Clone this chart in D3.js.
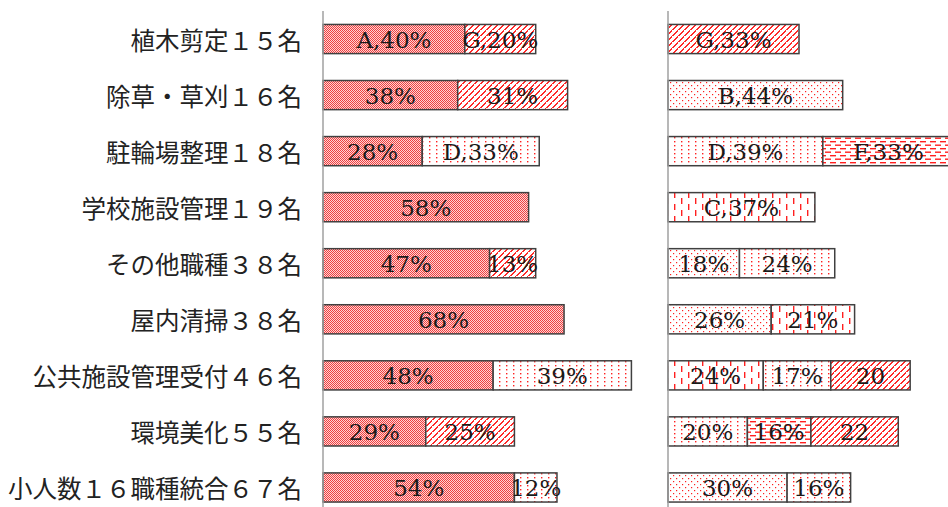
<!DOCTYPE html>
<html><head><meta charset="utf-8">
<script src="https://cdn.jsdelivr.net/npm/d3@7"></script>
<style>html,body{margin:0;padding:0;background:#fff;overflow:hidden}</style>
</head><body>
<script>
const categories = ["植木剪定１５名","除草・草刈１６名","駐輪場整理１８名","学校施設管理１９名","その他職種３８名","屋内清掃３８名","公共施設管理受付４６名","環境美化５５名","小人数１６職種統合６７名"];

// Left panel series (percent)
const leftA = [40,38,28,58,47,68,48,29,54];
const leftD = [0,0,33,0,0,0,39,0,12];
const leftG = [20,31,0,0,13,0,0,25,0];
const leftALabels = ["A,40%","38%","28%","58%","47%","68%","48%","29%","54%"];
const leftDLabels = ["","","D,33%","","","","39%","","12%"];
const leftGLabels = ["G,20%","31%","","","13%","","","25%",""];

// Right panel series (percent)
const rightB = [0,44,0,0,18,26,0,0,30];
const rightC = [0,0,0,37,0,21,24,0,0];
const rightD = [0,0,39,0,24,0,17,20,16];
const rightF = [0,0,33,0,0,0,0,16,0];
const rightG = [33,0,0,0,0,0,20,22,0];
const rightBLabels = ["","B,44%","","","18%","26%","","","30%"];
const rightCLabels = ["","","","C,37%","","21%","24%","",""];
const rightDLabels = ["","","D,39%","","24%","","17%","20%","16%"];
const rightFLabels = ["","","F,33%","","","","","16%",""];
const rightGLabels = ["G,33%","","","","","","20","22",""];

const W = 948, H = 507;
const svg = d3.select("body").append("svg").attr("width", W).attr("height", H);
const defs = svg.append("defs");

function pat(id, w, h, draw) {
  const p = defs.append("pattern").attr("id", id).attr("patternUnits", "userSpaceOnUse").attr("width", w).attr("height", h);
  p.append("rect").attr("width", w).attr("height", h).attr("fill", "#fff");
  draw(p);
}
pat("pA", 2, 2, p => {
  p.select("rect").attr("fill", "#ffd4d4");
  p.append("rect").attr("x", 0).attr("y", 0).attr("width", 1).attr("height", 1).attr("fill", "#ee4040");
  p.append("rect").attr("x", 1).attr("y", 1).attr("width", 1).attr("height", 1).attr("fill", "#ee4040");
});
pat("pG", 6, 6, p => {
  p.selectAll("rect.s").data(d3.range(6)).join("rect").attr("class", "s")
    .attr("x", i => 5 - i).attr("y", i => i).attr("width", 1.6).attr("height", 1)
    .attr("fill", "#ff2a2a").attr("shape-rendering", "crispEdges");
});
pat("pB", 6, 6, p => {
  p.append("rect").attr("x", 1).attr("y", 1).attr("width", 1.2).attr("height", 1.2).attr("fill", "#ff2020");
  p.append("rect").attr("x", 4).attr("y", 4).attr("width", 1.2).attr("height", 1.2).attr("fill", "#ff2020");
});
pat("pD", 7, 4, p => {
  p.append("rect").attr("x", 2).attr("y", 1).attr("width", 1.4).attr("height", 1.4).attr("fill", "#ff2020");
});
pat("pC", 14, 12, p => {
  p.append("rect").attr("x", 2).attr("y", 0).attr("width", 1.4).attr("height", 6).attr("fill", "#ff2020");
  p.append("rect").attr("x", 9).attr("y", 6).attr("width", 1.4).attr("height", 6).attr("fill", "#ff2020");
});
pat("pF", 10, 7, p => {
  p.append("rect").attr("x", 0).attr("y", 1).attr("width", 6).attr("height", 1.4).attr("fill", "#ff2020");
  p.append("rect").attr("x", 5).attr("y", 4.5).attr("width", 6).attr("height", 1.4).attr("fill", "#ff2020");
  p.append("rect").attr("x", -5).attr("y", 4.5).attr("width", 6).attr("height", 1.4).attr("fill", "#ff2020");
});

const y = d3.scaleBand().domain(categories).range([11, 515.5]).paddingInner(0.48).paddingOuter(0.24);

svg.append("g").selectAll("text").data(categories).join("text")
  .attr("x", 302).attr("y", d => y(d) + y.bandwidth() / 2)
  .attr("text-anchor", "end").attr("dominant-baseline", "central")
  .style("font-family", "'Noto Sans CJK JP', sans-serif").style("font-size", "24.5px")
  .attr("fill", "#222").text(d => d);

function panel(x0, width, series) {
  const x = d3.scaleLinear().domain([0, 100]).range([x0, x0 + width]);
  const rows = categories.map((c, i) => {
    const o = { cat: c };
    series.forEach(s => { o[s.key] = s.values[i]; });
    return o;
  });
  const stack = d3.stack().keys(series.map(s => s.key))(rows);
  const g = svg.append("g");
  stack.forEach((layer, li) => {
    const s = series[li];
    const segs = layer.map((d, i) => ({ d, i })).filter(e => e.d[1] - e.d[0] > 0);
    g.append("g").selectAll("rect").data(segs).join("rect")
      .attr("x", e => x(e.d[0])).attr("y", e => y(categories[e.i]))
      .attr("width", e => x(e.d[1]) - x(e.d[0])).attr("height", y.bandwidth())
      .attr("fill", "url(#" + s.pattern + ")").attr("stroke", "#404040").attr("stroke-width", 1.5);
  });
  stack.forEach((layer, li) => {
    const s = series[li];
    const segs = layer.map((d, i) => ({ d, i })).filter(e => e.d[1] - e.d[0] > 0);
    g.append("g").selectAll("text").data(segs).join("text")
      .attr("x", e => (x(e.d[0]) + x(e.d[1])) / 2).attr("y", e => y(categories[e.i]) + y.bandwidth() / 2 + 1)
      .attr("text-anchor", "middle").attr("dominant-baseline", "central")
      .style("font-family", "'DejaVu Serif', serif").style("font-size", "23px")
      .attr("fill", "#1a1a1a").text(e => s.labels[e.i]);
  });
  svg.append("line").attr("x1", x0).attr("x2", x0).attr("y1", 11).attr("y2", 515)
    .attr("stroke", "#a0a0a0").attr("stroke-width", 1.5);
}

panel(323, 354.5, [
  { key: "A", values: leftA, labels: leftALabels, pattern: "pA" },
  { key: "D", values: leftD, labels: leftDLabels, pattern: "pD" },
  { key: "G", values: leftG, labels: leftGLabels, pattern: "pG" }
]);
panel(668, 397, [
  { key: "B", values: rightB, labels: rightBLabels, pattern: "pB" },
  { key: "C", values: rightC, labels: rightCLabels, pattern: "pC" },
  { key: "D", values: rightD, labels: rightDLabels, pattern: "pD" },
  { key: "F", values: rightF, labels: rightFLabels, pattern: "pF" },
  { key: "G", values: rightG, labels: rightGLabels, pattern: "pG" }
]);
</script>
</body></html>
